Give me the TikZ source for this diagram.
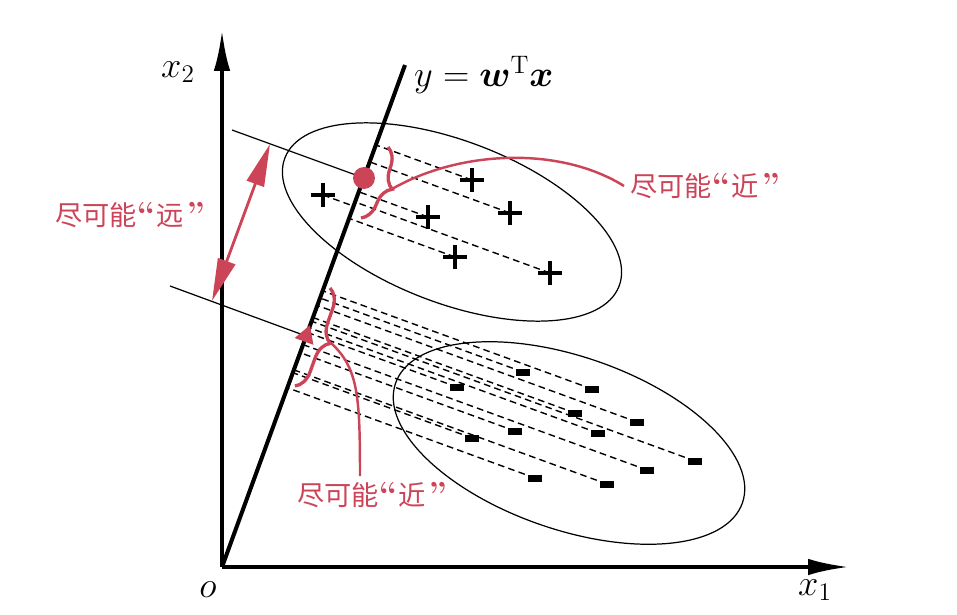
\documentclass[tikz,border=0pt]{standalone}
\usepackage{fontspec}
\usepackage{bm}
\newfontfamily\cjk{Noto Sans CJK SC}
\usetikzlibrary{calc,arrows.meta,shapes.geometric,shapes.misc,decorations.pathreplacing}
\definecolor{annored}{RGB}{204,68,88}
\newcommand{\openq}{{\rmfamily\bfseries\fontsize{19}{19}\selectfont “}\hspace{0.05em}}
\newcommand{\closeq}{\hspace{0.1em}{\rmfamily\bfseries\fontsize{19}{19}\selectfont ”}}
\tikzset{
  axis/.style={line width=2.3pt,-{Latex[length=8.2mm,width=3.3mm]}},
  pluspt/.style={cross out,draw,line width=2.1pt,minimum size=0.27cm,inner sep=0pt,rotate=45},
  minuspt/.style={rectangle,fill,minimum width=0.29cm,minimum height=0.14cm,inner sep=0pt},
  proj/.style={line width=0.8pt,dash pattern=on 3.8pt off 2.4pt},
  cluster/.style={line width=0.7pt},
  annot/.style={text=annored,font=\cjk\fontsize{15.5}{18}\selectfont},
  redbrace/.style={annored,line width=1.9pt,decorate,decoration={brace,amplitude=0.38cm}},
  redline/.style={annored,line width=1.4pt},
}
\begin{document}
\begin{tikzpicture}[x=0.02cm,y=-0.02cm]
\useasboundingbox (0,0) rectangle (957,615);

% axes and projection line
\coordinate (O) at (222,567);
\coordinate (X1) at (849,567);
\coordinate (X2) at (222,30);
\coordinate (W) at (405,65);
\draw[axis] (O) -- (X1);
\draw[axis] (O) -- (X2);
\draw[line width=2.3pt] (O) -- (W);
\node (olab) at (208,590) {\huge$o$};
\node (x1lab) at (815,590) {\huge$x_1$};
\node (x2lab) at (178,72) {\huge$x_2$};
\node[anchor=west] (wlab) at (408,75) {\huge$y=\bm{w}^{\mathrm{T}}\bm{x}$};

% the two classes
\draw[cluster,rotate around={-21:(452,222)}] (452,222) ellipse [x radius=3.58cm,y radius=1.62cm];
\draw[cluster,rotate around={-19:(569,443)}] (569,443) ellipse [x radius=3.67cm,y radius=1.73cm];

\node[pluspt] (p1) at (323,195) {};
\node[pluspt] (p2) at (472,180) {};
\node[pluspt] (p3) at (510,213) {};
\node[pluspt] (p4) at (428,217) {};
\node[pluspt] (p5) at (455,257) {};
\node[pluspt] (p6) at (550,273) {};

\node[minuspt] (m1) at (523,372) {};
\node[minuspt] (m2) at (457,387) {};
\node[minuspt] (m3) at (592,389) {};
\node[minuspt] (m4) at (575,413) {};
\node[minuspt] (m5) at (637,422) {};
\node[minuspt] (m6) at (515,431) {};
\node[minuspt] (m7) at (598,433) {};
\node[minuspt] (m8) at (472,438) {};
\node[minuspt] (m9) at (695,461) {};
\node[minuspt] (m10) at (647,470) {};
\node[minuspt] (m11) at (535,478) {};
\node[minuspt] (m12) at (607,484) {};

% projections onto w
\foreach \pt in {p1,p2,p3,p4,p5,p6,m1,m2,m3,m4,m5,m6,m7,m8,m9,m10,m11,m12}
  \draw[proj] (\pt.center) -- ($(O)!(\pt.center)!(W)$);

% projected centres
\coordinate (ul) at (232,130);
\coordinate (ll) at (170,286);
\draw[cluster] (ul) -- (364,178);
\draw[cluster] (ll) -- (306,336);
\node[circle,fill=annored,minimum size=0.44cm,inner sep=0pt] (mup) at (364,178) {};
\node[regular polygon,regular polygon sides=3,fill=annored,minimum size=0.46cm,inner sep=0pt,rotate=-20] (mdown) at (306,336) {};

% far apart
\coordinate (far1) at (270,144);
\coordinate (far2) at (212,301);
\draw[redline,line width=1.6pt,{Triangle[length=8.5mm,width=3.6mm]}-{Triangle[length=8.5mm,width=3.6mm]}] (far1) -- (far2);
\node[annot] (farlab) at (130,215) {尽可能\openq 远\closeq};

% close together
\coordinate (ub1) at (388,147);
\coordinate (ub2) at (361,218);
\coordinate (ubtip) at (392,189);
\draw[redbrace] (ub1) -- (ub2);
\node[annot,anchor=west] (nearup) at (624,186) {尽可能\openq 近\closeq};
\draw[redline] (ubtip) .. controls (460,150) and (560,146) .. (nearup.west);

\coordinate (lb1) at (330,288);
\coordinate (lb2) at (295,386);
\coordinate (lbtip) at (331,343);
\draw[redbrace] (lb1) -- (lb2);
\node[annot] (neardown) at (372,495) {尽可能\openq 近\closeq};
\draw[redline] (lbtip) .. controls (358,368) and (360,395) .. ([xshift=-0.24cm]neardown.north);
\end{tikzpicture}
\end{document}
